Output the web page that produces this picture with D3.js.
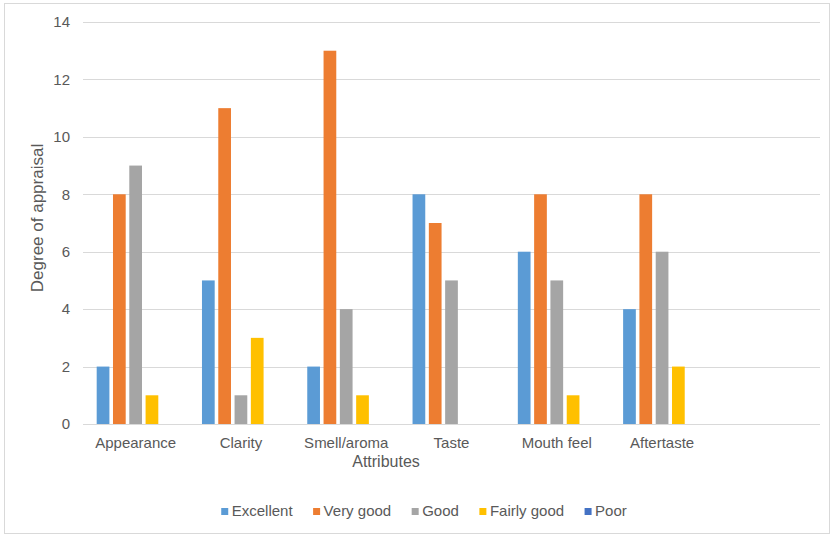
<!DOCTYPE html>
<html>
<head>
<meta charset="utf-8">
<script src="https://cdn.jsdelivr.net/npm/d3@7/dist/d3.min.js"></script>
<style>
  html, body { margin: 0; padding: 0; background: #fff; }
  svg { display: block; font-family: "Liberation Sans", Arial, sans-serif; }
</style>
</head>
<body>
<svg id="chart" width="831" height="535"></svg>
<script>
// ---- data ----
const categories = ["Appearance", "Clarity", "Smell/aroma", "Taste", "Mouth feel", "Aftertaste", ""];
const seriesNames = ["Excellent", "Very good", "Good", "Fairly good", "Poor"];
const excellent  = [2, 5, 2, 8, 6, 4, null];
const veryGood   = [8, 11, 13, 7, 8, 8, null];
const good       = [9, 1, 4, 5, 5, 6, null];
const fairlyGood = [1, 3, 1, 0, 1, 2, null];
const poor       = [0, 0, 0, 0, 0, 0, null];
const yTicks = [0, 2, 4, 6, 8, 10, 12, 14];
const seriesColors = ["#5B9BD5", "#ED7D31", "#A5A5A5", "#FFC000", "#4472C4"];

const seriesValues = [excellent, veryGood, good, fairlyGood, poor];

const svg = d3.select("#chart");
const textColor = "#595959";
const gridColor = "#d9d9d9";

// chart border
svg.append("rect")
  .attr("x", 4.5).attr("y", 3.5).attr("width", 825).attr("height", 530)
  .attr("fill", "#fff").attr("stroke", gridColor).attr("stroke-width", 1);

const plot = { left: 83, right: 820, top: 22, bottom: 424 };

const x0 = d3.scaleBand().domain(categories).range([plot.left, plot.right]).paddingInner(0).paddingOuter(0);
const bw = x0.bandwidth();
const inset = bw * 0.13;
const x1 = d3.scaleBand().domain(seriesNames).range([inset, bw - inset]).paddingInner(0.22).paddingOuter(0);
const y = d3.scaleLinear().domain([0, 14]).range([plot.bottom, plot.top]);

// gridlines
svg.append("g").selectAll("line").data(yTicks).join("line")
  .attr("x1", plot.left).attr("x2", plot.right)
  .attr("y1", d => Math.round(y(d)) + 0.5).attr("y2", d => Math.round(y(d)) + 0.5)
  .attr("stroke", gridColor).attr("stroke-width", 1);

// y axis labels
const yAxis = d3.axisLeft(y).tickValues(yTicks).tickSize(0).tickPadding(0);
const yg = svg.append("g").attr("transform", `translate(${plot.left - 13},0)`).call(yAxis);
yg.select(".domain").remove();
yg.selectAll("text").attr("fill", textColor).style("font-size", "15px")
  .attr("font-family", "'Liberation Sans', Arial, sans-serif");

// bars
const rows = categories.map((c, i) => ({ cat: c, vals: seriesNames.map((s, j) => ({ s, j, v: seriesValues[j][i] })) }));
const groups = svg.append("g").selectAll("g").data(rows).join("g")
  .attr("transform", d => `translate(${x0(d.cat)},0)`);
groups.selectAll("rect").data(d => d.vals.filter(e => e.v != null && e.v > 0)).join("rect")
  .attr("x", d => x1(d.s))
  .attr("width", x1.bandwidth())
  .attr("y", d => y(d.v))
  .attr("height", d => y(0) - y(d.v))
  .attr("fill", d => seriesColors[d.j]);

// baseline
svg.append("line")
  .attr("x1", plot.left).attr("x2", plot.right)
  .attr("y1", Math.round(y(0)) + 0.5).attr("y2", Math.round(y(0)) + 0.5)
  .attr("stroke", gridColor).attr("stroke-width", 1);

// x axis labels
const xAxis = d3.axisBottom(x0).tickSize(0).tickPadding(0);
const xg = svg.append("g").attr("transform", `translate(0,${plot.bottom})`).call(xAxis);
xg.select(".domain").remove();
xg.selectAll("text").attr("fill", textColor).style("font-size", "15px")
  .attr("dy", null).attr("y", 24)
  .attr("font-family", "'Liberation Sans', Arial, sans-serif");

// axis titles
svg.append("text").text("Attributes")
  .attr("x", 386).attr("y", 467).attr("text-anchor", "middle")
  .attr("fill", textColor).style("font-size", "16px");
svg.append("text").text("Degree of appraisal")
  .attr("transform", "translate(43,218) rotate(-90)").attr("text-anchor", "middle")
  .attr("fill", textColor).style("font-size", "17px");

// legend
const legend = svg.append("g");
const items = legend.selectAll("g").data(seriesNames).join("g");
items.append("rect").attr("width", 7).attr("height", 7).attr("y", -8)
  .attr("fill", (d, i) => seriesColors[i]);
items.append("text").text(d => d).attr("x", 10.5).attr("y", 0)
  .attr("fill", textColor).style("font-size", "15px");
const gap = 20.5;
let cx = 0;
const offsets = [];
items.each(function () {
  const w = 10.5 + d3.select(this).select("text").node().getComputedTextLength();
  offsets.push(cx);
  cx += w + gap;
});
const totalW = cx - gap;
const startX = 424 - totalW / 2;
items.attr("transform", (d, i) => `translate(${startX + offsets[i]},516)`);
</script>
</body>
</html>
